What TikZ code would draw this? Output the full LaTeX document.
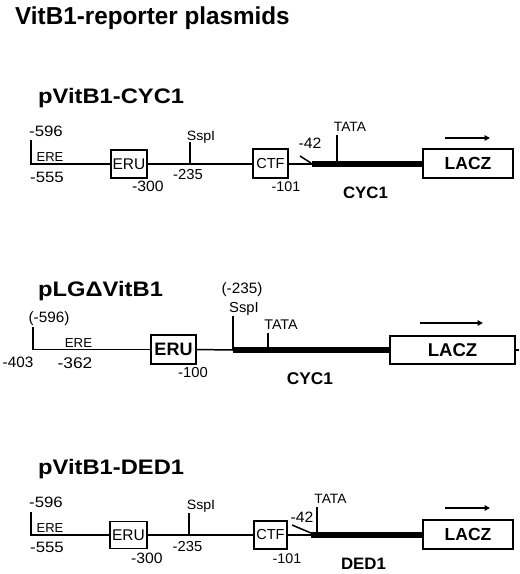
\documentclass[tikz,border=0pt]{standalone}
\usepackage{fontspec}
\setmainfont{Liberation Sans}
\usetikzlibrary{arrows.meta}
\newcommand\lbx[3]{\scalebox{#2}[1]{\fontsize{#1}{#1}\selectfont #3}}
\newcommand\lbb[3]{\scalebox{#2}[1]{\fontsize{#1}{#1}\selectfont\bfseries #3}}
\begin{document}
\begin{tikzpicture}[x=1pt,y=-1pt,
  thinline/.style={line width=1.5pt},
  heavyline/.style={line width=6.5pt},
  box/.style={draw, line width=1.4pt, inner sep=0pt},
  lbl/.style={inner sep=0pt},
  dirarrow/.style={line width=1.4pt,-{Triangle[length=5.5pt,width=5.5pt]}}]
\useasboundingbox (0,0) rectangle (520,574);

% title
\node[lbl,anchor=base west] (title) at (15,24) {\lbb{24.5}{0.99}{VitB1-reporter plasmids}};

% ================= section 1 =================
\node[lbl,anchor=base west] (sub1) at (38,103) {\lbb{21}{1.13}{pVitB1-CYC1}};
\node[box,minimum width=36pt,minimum height=28pt] (eru1) at (129,164) {\lbx{15.5}{1}{ERU}};
\node[box,minimum width=35pt,minimum height=29pt] (ctf1) at (270.5,163.5) {\lbx{14.5}{1}{CTF}};
\node[box,minimum width=90pt,minimum height=29pt] (lacz1) at (468,163.5) {\lbb{17.5}{1}{LACZ}};
\coordinate (e1top) at (31,140);
\coordinate (m1) at (312,164);
\coordinate (ssp1a) at (190,142);
\coordinate (ssp1b) at (190,164);
\coordinate (tata1a) at (337,135);
\coordinate (tata1b) at (337,164);
\coordinate (d1a) at (300,156);
\coordinate (d1b) at (311,163);
\coordinate (ar1a) at (445,138);
\coordinate (ar1b) at (490,138);
\draw[thinline] (e1top) |- (eru1.west);
\draw[thinline] (eru1.east) -- (ctf1.west |- eru1.east);
\draw[thinline] (ctf1.east |- m1) -- (m1);
\draw[heavyline] (m1) -- (lacz1.west |- m1);
\draw[thinline] (ssp1a) -- (ssp1b);
\draw[thinline] (tata1a) -- (tata1b);
\draw[thinline] (d1a) -- (d1b);
\draw[dirarrow] (ar1a) -- (ar1b);
\node[lbl] (n1a) at (46,131.5) {\lbx{15}{1.12}{-596}};
\node[lbl] (n1b) at (50,157.5) {\lbx{13}{1.0}{ERE}};
\node[lbl] (n1c) at (47,177) {\lbx{15}{1.12}{-555}};
\node[lbl] (n1d) at (148,186) {\lbx{15}{1.05}{-300}};
\node[lbl,anchor=base] (n1e) at (201,140) {\lbx{13.5}{1.05}{SspI}};
\node[lbl] (n1f) at (188,175) {\lbx{14.5}{1.02}{-235}};
\node[lbl] (n1g) at (286,187) {\lbx{14}{1.02}{-101}};
\node[lbl] (n1h) at (310,143.5) {\lbx{15}{1.05}{-42}};
\node[lbl] (n1i) at (350,127) {\lbx{13.5}{1.02}{TATA}};
\node[lbl] (n1j) at (365.5,192.5) {\lbb{16.5}{1.02}{CYC1}};

% ================= section 2 =================
\node[lbl,anchor=base west] (sub2) at (38,296) {\lbb{21}{1.13}{pLGΔVitB1}};
\node[box,minimum width=45pt,minimum height=29pt] (eru2) at (173.5,349.5) {\lbb{18}{1}{ERU}};
\node[box,minimum width=125pt,minimum height=28pt] (lacz2) at (452.5,350) {\lbb{18.5}{1}{LACZ}};
\coordinate (e2top) at (33,327);
\coordinate (ssp2a) at (233,316);
\coordinate (ssp2b) at (233,350);
\coordinate (tata2a) at (268,333);
\coordinate (tata2b) at (268,350);
\coordinate (stub2) at (519,350);
\coordinate (ar2a) at (420,323);
\coordinate (ar2b) at (483,323);
\draw[thinline] (e2top) |- (eru2.west);
\draw[thinline] (eru2.east) -- (ssp2b);
\draw[thinline] (ssp2a) -- (ssp2b);
\draw[heavyline] (ssp2b) -- (lacz2.west |- ssp2b);
\draw[thinline] (tata2a) -- (tata2b);
\draw[thinline] (lacz2.east) -- (stub2);
\draw[dirarrow] (ar2a) -- (ar2b);
\node[lbl] (n2a) at (49,319) {\lbx{15}{1.02}{(-596)}};
\node[lbl] (n2b) at (78.5,343.5) {\lbx{13}{1.02}{ERE}};
\node[lbl] (n2c) at (18,362) {\lbx{15}{1.02}{-403}};
\node[lbl] (n2d) at (75,363) {\lbx{15.5}{1.12}{-362}};
\node[lbl] (n2e) at (193,373) {\lbx{14.5}{1.02}{-100}};
\node[lbl] (n2f) at (242,290) {\lbx{15}{1.02}{(-235)}};
\node[lbl,anchor=base] (n2g) at (244,312) {\lbx{14.5}{1.02}{SspI}};
\node[lbl] (n2h) at (281,324.5) {\lbx{14}{1.02}{TATA}};
\node[lbl] (n2i) at (310,379) {\lbb{17}{1.02}{CYC1}};

% ================= section 3 =================
\node[lbl,anchor=base west] (sub3) at (38,474) {\lbb{21}{1.13}{pVitB1-DED1}};
\node[box,minimum width=37pt,minimum height=27pt] (eru3) at (128.5,535) {\lbx{15.5}{1}{ERU}};
\node[box,minimum width=33pt,minimum height=28pt] (ctf3) at (270.5,535) {\lbx{14.5}{1}{CTF}};
\node[box,minimum width=90pt,minimum height=29pt] (lacz3) at (468,534.5) {\lbb{17.5}{1}{LACZ}};
\coordinate (e3top) at (31,512);
\coordinate (m3) at (311,535);
\coordinate (ssp3a) at (189,513);
\coordinate (ssp3b) at (189,535);
\coordinate (tata3a) at (317,507);
\coordinate (tata3b) at (317,535);
\coordinate (d3a) at (292,525);
\coordinate (d3b) at (311,533);
\coordinate (ar3a) at (445,508);
\coordinate (ar3b) at (490,508);
\draw[thinline] (e3top) |- (eru3.west);
\draw[thinline] (eru3.east) -- (ctf3.west |- eru3.east);
\draw[thinline] (ssp3a) -- (ssp3b);
\draw[thinline] (ctf3.east |- m3) -- (m3);
\draw[heavyline] (m3) -- (lacz3.west |- m3);
\draw[thinline] (tata3a) -- (tata3b);
\draw[thinline] (d3a) -- (d3b);
\draw[dirarrow] (ar3a) -- (ar3b);
\node[lbl] (n3a) at (46,502.5) {\lbx{15}{1.12}{-596}};
\node[lbl] (n3b) at (50,528) {\lbx{13}{1.0}{ERE}};
\node[lbl] (n3c) at (47,547) {\lbx{15}{1.12}{-555}};
\node[lbl] (n3d) at (147,558) {\lbx{15}{1.05}{-300}};
\node[lbl,anchor=base] (n3e) at (201,509) {\lbx{13.5}{1.05}{SspI}};
\node[lbl] (n3f) at (187.5,547) {\lbx{14.5}{1.02}{-235}};
\node[lbl] (n3g) at (287,558.5) {\lbx{14}{1.02}{-101}};
\node[lbl] (n3h) at (302,517) {\lbx{15}{1.05}{-42}};
\node[lbl] (n3i) at (330.5,499) {\lbx{13.5}{1.02}{TATA}};
\node[lbl] (n3j) at (363.5,563.5) {\lbb{16.5}{1.02}{DED1}};
\end{tikzpicture}
\end{document}
